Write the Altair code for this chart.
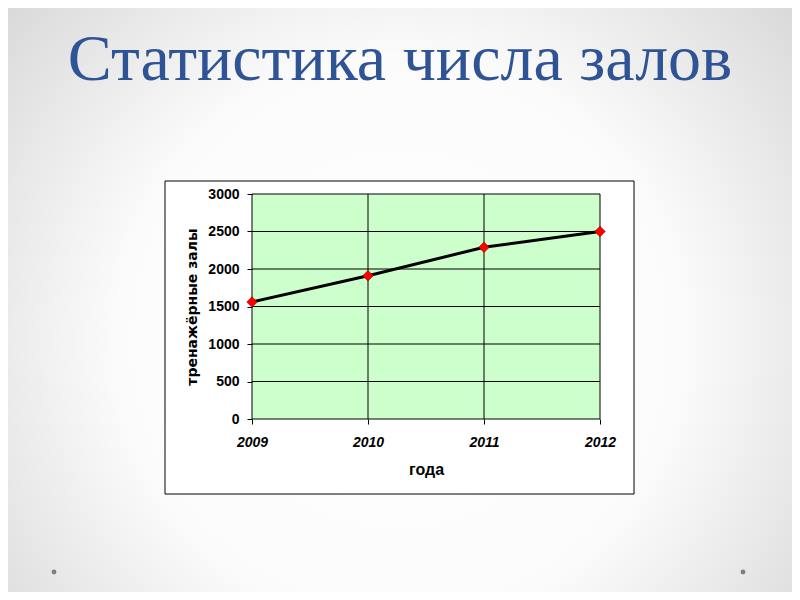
import altair as alt
import pandas as pd

# ---- data ----
years = ["2009", "2010", "2011", "2012"]
halls = [1560, 1910, 2290, 2500]
y_ticks = [0, 500, 1000, 1500, 2000, 2500, 3000]
slide_title = "Статистика числа залов"
x_title = "года"
y_title = "тренажёрные залы"

# ---- layout ----
W, H = 348, 225
PL, PT = 244, 186
TOTAL_W, TOTAL_H = 784, 584
PR = TOTAL_W - PL - W
PB = TOTAL_H - PT - H


def ax(px):
    return px - PL - 8


def ay(py):
    return py - PT - 8


df = pd.DataFrame({"year": years, "halls": halls})
grid_df = pd.DataFrame({"tick": y_ticks})
one = pd.DataFrame({"k": [0]})
title_df = pd.DataFrame({"t": [slide_title]})

xscale = alt.Scale(type="point", domain=years, padding=0)
yscale = alt.Scale(domain=[0, 3000], nice=False)

xaxis = alt.Axis(
    labelAngle=0, labelFont="Liberation Sans", labelFontSize=14,
    labelFontWeight="bold", labelFontStyle="italic", labelColor="black",
    labelPadding=11, tickSize=5, tickColor="black", domain=False, grid=False,
    titleFont="Liberation Sans", titleFontSize=16, titleFontWeight="bold",
    titleColor="black", titlePadding=12, zindex=1,
)
yaxis = alt.Axis(
    values=y_ticks, format="d", labelFont="Liberation Sans", labelFontSize=14,
    labelFontWeight="bold", labelColor="black", labelPadding=8,
    tickSize=5, tickColor="black", domain=False, grid=False,
    titleFont="DejaVu Sans", titleFontSize=14, titleFontWeight="bold",
    titleColor="black", titlePadding=8, zindex=1,
)

X = alt.X("year:O", scale=xscale, axis=xaxis, title=x_title)

bg = alt.Chart(one).mark_rect(
    color=alt.RadialGradient(
        gradient="radial",
        stops=[
            alt.GradientStop(offset=0, color="#ffffff"),
            alt.GradientStop(offset=0.5, color="#fbfbfb"),
            alt.GradientStop(offset=1, color="#d2d2d2"),
        ],
        x1=0.5, y1=0.55, r1=0, x2=0.5, y2=0.55, r2=0.72,
    )
).encode(
    x=alt.value(-PL), x2=alt.value(TOTAL_W - PL),
    y=alt.value(-PT), y2=alt.value(TOTAL_H - PT),
)

frame = alt.Chart(one).mark_rect(
    fill="white", stroke="black", strokeWidth=1
).encode(
    x=alt.value(ax(165)), x2=alt.value(ax(634)),
    y=alt.value(ay(181)), y2=alt.value(ay(494)),
)

plot_bg = alt.Chart(one).mark_rect(fill="#ccffcc").encode(
    x=alt.value(0), x2=alt.value(W), y=alt.value(0), y2=alt.value(H)
)

hgrid = alt.Chart(grid_df).mark_rule(color="black", strokeWidth=1).encode(
    y=alt.Y("tick:Q", scale=yscale, axis=yaxis, title=y_title),
    x=alt.value(0), x2=alt.value(W),
)

vgrid = alt.Chart(df).mark_rule(color="black", strokeWidth=1).encode(
    x=X,
    y=alt.value(0), y2=alt.value(H),
)

line = alt.Chart(df).mark_line(color="black", strokeWidth=3).encode(
    x=X,
    y=alt.Y("halls:Q", scale=yscale, axis=yaxis, title=y_title),
)

points = alt.Chart(df).mark_point(
    shape="diamond", filled=True, size=110, fill="#ff0000",
    stroke="#8b0000", strokeWidth=0.6, opacity=1,
).encode(
    x=X,
    y=alt.Y("halls:Q", scale=yscale, axis=yaxis, title=y_title),
)

title = alt.Chart(title_df).mark_text(
    font="Liberation Serif", fontSize=66, color="#2f5496",
    align="center", baseline="alphabetic",
).encode(x=alt.value(ax(400)), y=alt.value(ay(80)), text="t:N")

bullet1 = alt.Chart(one).mark_circle(size=24, color="#7f7f7f", opacity=1).encode(
    x=alt.value(ax(54)), y=alt.value(ay(572))
)
bullet2 = alt.Chart(one).mark_circle(size=24, color="#7f7f7f", opacity=1).encode(
    x=alt.value(ax(743)), y=alt.value(ay(572))
)

chart = alt.layer(
    bg, frame, plot_bg, hgrid, vgrid, line, points, title, bullet1, bullet2
).properties(
    width=W, height=H,
    padding={"left": PL, "top": PT, "right": PR, "bottom": PB},
    autosize=alt.AutoSizeParams(type="none"),
    background="white",
).configure_view(stroke=None)

chart.save("out.html", embed_options={"renderer": "svg", "actions": False})
